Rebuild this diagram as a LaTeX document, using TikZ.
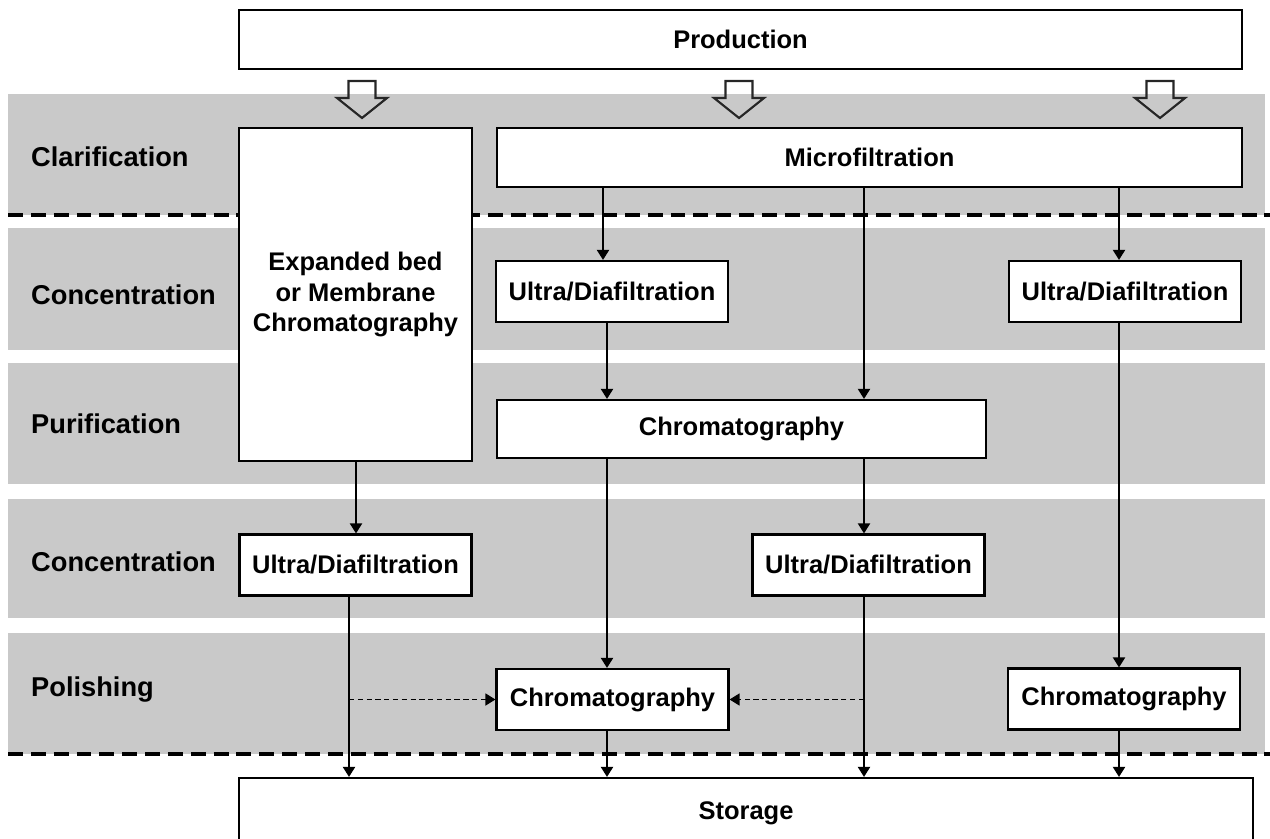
\documentclass[tikz,border=0pt]{standalone}
\usepackage{fontspec}
\setmainfont{Liberation Sans}
\usetikzlibrary{arrows.meta}

\begin{document}
\begin{tikzpicture}[
      every node/.style={font=\fontsize{14.5}{17.6}\selectfont\bfseries},
      band/.style={fill=black!21, draw=none},
      stage/.style={anchor=west, font=\fontsize{15.5}{18}\selectfont\bfseries},
      unit/.style={rectangle, draw=black, fill=white, line width=1.2pt, minimum height=1.22cm, minimum width=4.64cm, align=center, inner sep=2pt},
      flow/.style={line width=1.1pt, ->, >={Triangle[length=2mm,width=2.4mm]}},
      feed/.style={line width=0.8pt, dash pattern=on 3pt off 2pt, ->, >={Triangle[length=2mm,width=2.4mm]}},
      divider/.style={line width=2.3pt, dash pattern=on 8.5pt off 4.5pt},
      hollow/.style={line width=1.2pt, draw=black!85, line join=miter}
  ]
    \useasboundingbox (0,0) rectangle (25.4,-16.78);
    \clip (0,0) rectangle (25.4,-16.78);

    % stage bands
    \foreach \ya/\yb in {-1.88/-4.30, -4.56/-7.00, -7.26/-9.68, -9.98/-12.36, -12.66/-15.08} {
      \fill[band] (0.16,\ya) rectangle (25.3,\yb);
    }
    \draw[divider] (0.16,-4.30) -- (25.4,-4.30);
    \draw[divider] (0.16,-15.08) -- (25.4,-15.08);

    \node[stage] (lclar) at (0.5,-3.14) {Clarification};
    \node[stage] (lconcA) at (0.5,-5.90) {Concentration};
    \node[stage] (lpurif) at (0.5,-8.48) {Purification};
    \node[stage] (lconcB) at (0.5,-11.24) {Concentration};
    \node[stage] (lpolish) at (0.5,-13.80) {Polishing};

    % feed arrows below production
    \foreach \ax in {7.24,14.78,23.2} {
      \draw[hollow] ({\ax-0.27},-1.62) -- ({\ax+0.27},-1.62) -- ({\ax+0.27},-1.96) -- ({\ax+0.5},-1.96)
        -- (\ax,-2.36) -- ({\ax-0.5},-1.96) -- ({\ax-0.27},-1.96) -- cycle;
    }

    \node[unit, minimum width=20.06cm, minimum height=1.18cm] (prod) at (14.81,-0.79) {Production};
    \node[unit, minimum width=14.9cm, minimum height=1.18cm] (micro) at (17.39,-3.15) {Microfiltration};
    \node[unit, minimum width=4.66cm, minimum height=6.66cm] (ebmc) at (7.11,-5.89) {Expanded bed\\or Membrane\\Chromatography};
    \node[unit] (udA) at (12.24,-5.83) {Ultra/Diafiltration};
    \node[unit] (udB) at (22.50,-5.83) {Ultra/Diafiltration};
    \node[unit, minimum width=9.78cm, minimum height=1.16cm] (chromP) at (14.83,-8.58) {Chromatography};
    \node[unit] (udC) at (7.11,-11.30) {Ultra/Diafiltration};
    \node[unit] (udD) at (17.37,-11.30) {Ultra/Diafiltration};
    \node[unit] (chromA) at (12.25,-13.99) {Chromatography};
    \node[unit] (chromB) at (22.48,-13.98) {Chromatography};
    \node[unit, minimum width=20.28cm, minimum height=1.4cm] (store) at (14.92,-16.26) {Storage};

    \draw[flow] (micro.south -| 12.06,0) -- (udA.north -| 12.06,0);
    \draw[flow] (micro.south -| 17.28,0) -- (chromP.north -| 17.28,0);
    \draw[flow] (micro.south -| 22.38,0) -- (udB.north -| 22.38,0);
    \draw[flow] (ebmc.south -| 7.12,0) -- (udC.north -| 7.12,0);
    \draw[flow] (udA.south -| 12.14,0) -- (chromP.north -| 12.14,0);
    \draw[flow] (chromP.south -| 12.14,0) -- (chromA.north -| 12.14,0);
    \draw[flow] (chromP.south -| 17.28,0) -- (udD.north -| 17.28,0);
    \draw[flow] (udB.south -| 22.38,0) -- (chromB.north -| 22.38,0);
    % into storage
    \draw[flow] (udC.south -| 6.98,0) -- (store.north -| 6.98,0);
    \draw[flow] (chromA.south -| 12.14,0) -- (store.north -| 12.14,0);
    \draw[flow] (udD.south -| 17.28,0) -- (store.north -| 17.28,0);
    \draw[flow] (chromB.south -| 22.38,0) -- (store.north -| 22.38,0);
    % optional polishing
    \draw[feed] (chromA.west -| 6.98,0) -- (chromA.west);
    \draw[feed] (chromA.east -| 17.28,0) -- (chromA.east);
  \end{tikzpicture}
\end{document}
